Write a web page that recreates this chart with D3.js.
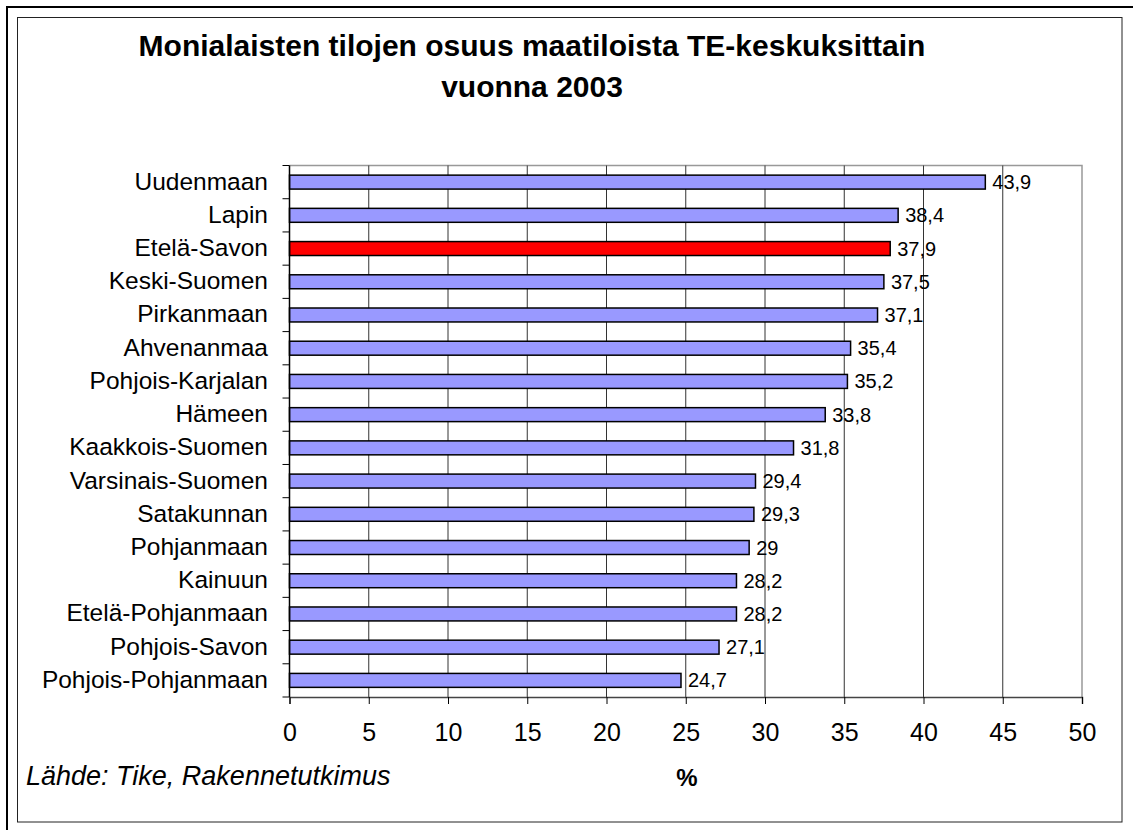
<!DOCTYPE html>
<html>
<head>
<meta charset="utf-8">
<script src="https://cdn.jsdelivr.net/npm/d3@7"></script>
<style>
  body { margin: 0; background: #fff; }
  svg { display: block; font-family: Arial, "Liberation Sans", sans-serif; }
</style>
</head>
<body>
<div id="chart"></div>
<script>
// data
var categories = ['Uudenmaan', 'Lapin', 'Etelä-Savon', 'Keski-Suomen', 'Pirkanmaan', 'Ahvenanmaa',
  'Pohjois-Karjalan', 'Hämeen', 'Kaakkois-Suomen', 'Varsinais-Suomen', 'Satakunnan', 'Pohjanmaan',
  'Kainuun', 'Etelä-Pohjanmaan', 'Pohjois-Savon', 'Pohjois-Pohjanmaan']
var values = [43.9, 38.4, 37.9, 37.5, 37.1, 35.4, 35.2, 33.8, 31.8, 29.4, 29.3, 29, 28.2, 28.2, 27.1, 24.7]
var highlight = ['Etelä-Savon']
var xTicks = [0, 5, 10, 15, 20, 25, 30, 35, 40, 45, 50]
var titleLines = ['Monialaisten tilojen osuus maatiloista TE-keskuksittain', 'vuonna 2003']

var W = 1133, H = 830
var plot = { left: 289.5, right: 1082, top: 165.5, bottom: 697 }

var svg = d3.select('#chart').append('svg')
  .attr('width', W)
  .attr('height', H)

// outer frame (only left/top visible) and inner frame
svg.append('line').attr('x1', 7).attr('x2', 7).attr('y1', 6).attr('y2', H)
  .attr('stroke', '#000').attr('stroke-width', 2)
svg.append('line').attr('x1', 6).attr('x2', W).attr('y1', 7).attr('y2', 7)
  .attr('stroke', '#000').attr('stroke-width', 2)
svg.append('rect')
  .attr('x', 17.5).attr('y', 17.5)
  .attr('width', 1122 - 17.5).attr('height', 822 - 17.5)
  .attr('fill', 'none').attr('stroke', '#222').attr('stroke-width', 1)

var x = d3.scaleLinear().domain([0, 50]).range([plot.left, plot.right])
var y = d3.scaleBand().domain(categories).range([plot.top, plot.bottom]).padding(0)
var barH = y.bandwidth() * 0.42

// plot border (top + right, grey)
svg.append('path')
  .attr('d', 'M' + plot.left + ',' + plot.top + 'H' + plot.right + 'V' + plot.bottom)
  .attr('fill', 'none').attr('stroke', '#999').attr('stroke-width', 1.5)

// vertical gridlines
svg.append('g').selectAll('line')
  .data(xTicks.filter(d => d > 0 && d < 50))
  .join('line')
  .attr('x1', d => x(d)).attr('x2', d => x(d))
  .attr('y1', plot.top).attr('y2', plot.bottom)
  .attr('stroke', '#333').attr('stroke-width', 1)

// bars
svg.append('g').selectAll('rect')
  .data(categories)
  .join('rect')
  .attr('x', x(0))
  .attr('y', d => y(d) + (y.bandwidth() - barH) / 2)
  .attr('width', (d, i) => x(values[i]) - x(0))
  .attr('height', barH)
  .attr('fill', d => highlight.includes(d) ? '#ff0000' : '#9999ff')
  .attr('stroke', '#000').attr('stroke-width', 1.5)

// value labels
var fmt = v => String(v).replace('.', ',')
svg.append('g').selectAll('text')
  .data(categories)
  .join('text')
  .attr('x', (d, i) => x(values[i]) + 7)
  .attr('y', d => y(d) + y.bandwidth() / 2 + 7)
  .attr('font-size', 20)
  .attr('fill', '#000')
  .text((d, i) => fmt(values[i]))

// x axis
var xAxis = svg.append('g')
  .attr('transform', 'translate(0,' + plot.bottom + ')')
  .call(d3.axisBottom(x).tickValues(xTicks).tickSize(7).tickPadding(19))
xAxis.select('.domain').attr('stroke', '#444').attr('stroke-width', 1.5)
xAxis.selectAll('.tick line').attr('stroke', '#000')
xAxis.selectAll('.tick text')
  .attr('font-size', 25).attr('font-family', 'Arial, "Liberation Sans", sans-serif').attr('fill', '#000')

// y axis: ticks at category boundaries
var bounds = categories.map(d => y(d)).concat([plot.bottom])
svg.append('line')
  .attr('x1', plot.left).attr('x2', plot.left)
  .attr('y1', plot.top).attr('y2', plot.bottom)
  .attr('stroke', '#000').attr('stroke-width', 1.5)
svg.append('g').selectAll('line')
  .data(bounds)
  .join('line')
  .attr('x1', plot.left - 7).attr('x2', plot.left)
  .attr('y1', d => d).attr('y2', d => d)
  .attr('stroke', '#000').attr('stroke-width', 1)
svg.append('g').selectAll('text')
  .data(categories)
  .join('text')
  .attr('x', 268)
  .attr('y', d => y(d) + y.bandwidth() / 2 + 7.5)
  .attr('text-anchor', 'end')
  .attr('font-size', 24.5)
  .attr('fill', '#000')
  .text(d => d)

// title
svg.append('g').selectAll('text')
  .data(titleLines)
  .join('text')
  .attr('x', 532)
  .attr('y', (d, i) => 56 + i * 41)
  .attr('text-anchor', 'middle')
  .attr('font-size', 30)
  .attr('font-weight', 'bold')
  .text(d => d)

// axis title
svg.append('text')
  .attr('x', 687).attr('y', 786)
  .attr('text-anchor', 'middle')
  .attr('font-size', 24).attr('font-weight', 'bold')
  .text('%')

// source
svg.append('text')
  .attr('x', 26).attr('y', 785)
  .attr('font-size', 27).attr('font-style', 'italic')
  .text('Lähde: Tike, Rakennetutkimus')
</script>
</body>
</html>
